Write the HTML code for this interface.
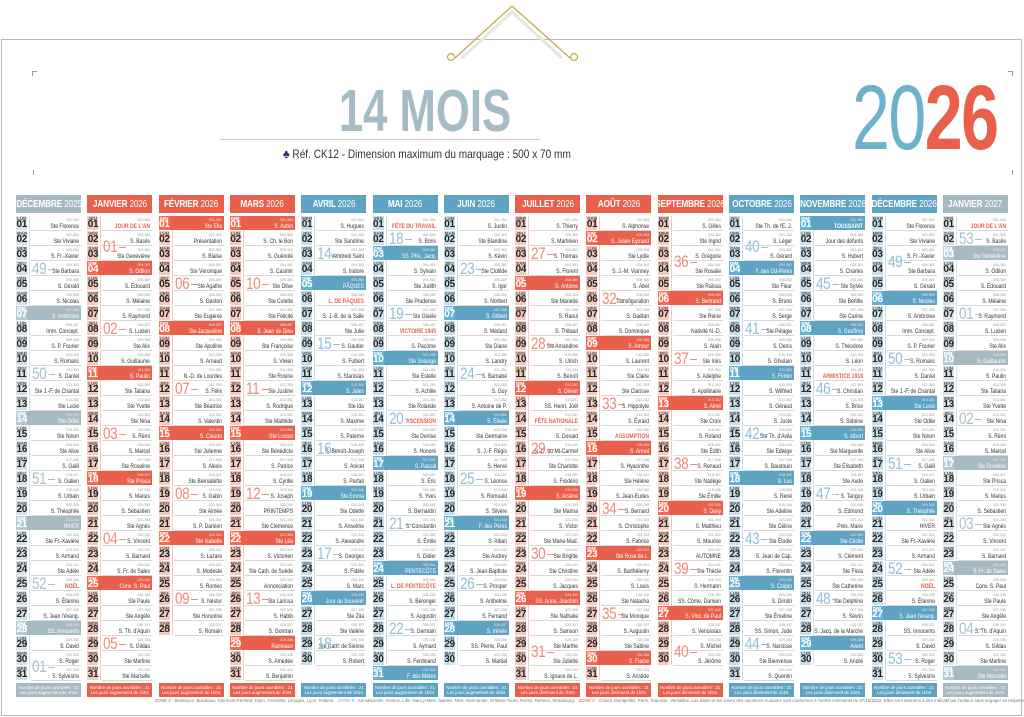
<!DOCTYPE html>
<html><head><meta charset="utf-8">
<style>
*{margin:0;padding:0;box-sizing:border-box}
html,body{width:1024px;height:717px;overflow:hidden;background:#fff;font-family:"Liberation Sans",sans-serif}
#pg{position:absolute;left:1px;top:39px;width:1021px;height:677px;border:1px solid #b9b9b9}
.a{position:absolute}
.hd{position:absolute;top:195px;height:18px;width:65px;color:#fff;font-weight:bold;font-size:10.5px;line-height:18px;white-space:nowrap;overflow:hidden}
.hd div{position:absolute;left:50%;top:0;transform:translateX(-50%) scaleX(0.78);letter-spacing:-0.2px}
.hd span{font-weight:normal}
.st{position:absolute;width:11px;height:14px}
.ab{position:absolute;left:1px;top:0px;font-size:4.5px;line-height:5px;font-weight:bold}
.nb{position:absolute;left:0.5px;top:4px;font-size:10px;line-height:10px;font-weight:bold;letter-spacing:-0.3px}
.sep{position:absolute;height:1px;background:#d8d8d8}
.nm{position:absolute;font-size:6.3px;line-height:7px;text-align:right;white-space:nowrap;color:#333;transform:scaleX(0.8);transform-origin:100% 0}
.tn{position:absolute;font-size:3.5px;line-height:4px;text-align:right;color:#999}
.wk{position:absolute;font-size:17px;line-height:17px;letter-spacing:-0.5px;transform:scaleX(0.8);transform-origin:0 0}
.ft{position:absolute;top:683px;height:14px;width:65px;color:#fff;font-size:4.3px;line-height:5px;text-align:center;padding-top:2px}
</style></head><body>
<div id="pg"></div>
<svg class="a" style="left:0;top:0" width="1024" height="70">
<path d="M455 58 L512 6 L570 58" fill="none" stroke="#c9a84a" stroke-width="1.3"/>
<path d="M462 58 L512 12 L562 58" fill="none" stroke="#e6e6e6" stroke-width="3"/>
<circle cx="451" cy="57" r="3.5" fill="none" stroke="#c9a84a" stroke-width="1.2"/>
<circle cx="574" cy="57" r="3.5" fill="none" stroke="#c9a84a" stroke-width="1.2"/>
</svg>
<div class="a" style="left:32px;top:71px;width:5px;height:5px;border-left:1px solid #999;border-top:1px solid #999"></div>
<div class="a" style="left:1008px;top:71px;width:5px;height:5px;border-right:1px solid #999;border-top:1px solid #999"></div>
<div class="a" style="left:33px;top:170px;width:1px;height:5px;background:#999"></div>
<div class="a" style="left:1012px;top:170px;width:1px;height:5px;background:#999"></div>
<div class="a" style="left:300px;top:80px;width:250px;text-align:center;font-size:59px;line-height:62px;font-weight:bold;color:#a5bcc6;transform:scaleX(0.74);transform-origin:125px 0;white-space:nowrap">14 MOIS</div>
<div class="a" style="left:220px;top:139px;width:320px;height:1px;background:#c8c8c8"></div>
<div class="a" style="left:283px;top:147px;font-size:12px;line-height:14px;color:#333;white-space:nowrap;transform:scaleX(0.84);transform-origin:0 0"><span style="color:#1d2a6b;font-weight:bold">♣</span> Réf. CK12 - Dimension maximum du marquage : 500 x 70 mm</div>
<div class="a" style="left:852px;top:72px;font-size:92px;line-height:92px;white-space:nowrap;transform:scaleX(0.74);transform-origin:0 0;letter-spacing:-2px"><span style="color:#6fb0cc;font-weight:normal">20</span><span style="color:#e8604c;font-weight:bold">26</span></div>
<div id="cal"></div>
<div class="a" style="left:155px;top:698px;font-size:4.4px;line-height:5px;color:#777;white-space:nowrap">ZONE A : Besançon, Bordeaux, Clermont-Ferrand, Dijon, Grenoble, Limoges, Lyon, Poitiers. &nbsp; <span style="color:#6fb0cc">ZONE B</span> : Aix-Marseille, Amiens, Lille, Nancy-Metz, Nantes, Nice, Normandie, Orléans-Tours, Reims, Rennes, Strasbourg. &nbsp; <span style="color:#e8604c">ZONE C</span> : Créteil, Montpellier, Paris, Toulouse, Versailles. Les dates et les zones des vacances scolaires sont conformes à l'arrêté ministériel du 07/10/2022. Elles sont données à titre indicatif par l'éditeur sans engager sa responsabilité.</div>
<script>
var S=[
["Jour de l'An","S. Basile","Ste Geneviève","S. Odilon","S. Édouard","S. Mélaine","S. Raymond","S. Lucien","Ste Alix","S. Guillaume","S. Paulin","Ste Tatiana","Ste Yvette","Ste Nina","S. Rémi","S. Marcel","Ste Roseline","Ste Prisca","S. Marius","S. Sébastien","Ste Agnès","S. Vincent","S. Barnard","S. Fr. de Sales","Conv. S. Paul","Ste Paule","Ste Angèle","S. Th. d'Aquin","S. Gildas","Ste Martine","Ste Marcelle"],
["Ste Ella","Présentation","S. Blaise","Ste Véronique","Ste Agathe","S. Gaston","Ste Eugénie","Ste Jacqueline","Ste Apolline","S. Arnaud","N.-D. de Lourdes","S. Félix","Ste Béatrice","S. Valentin","S. Claude","Ste Julienne","S. Alexis","Ste Bernadette","S. Gabin","Ste Aimée","S. P. Damien","Ste Isabelle","S. Lazare","S. Modeste","S. Roméo","S. Nestor","Ste Honorine","S. Romain"],
["S. Aubin","S. Ch. le Bon","S. Guénolé","S. Casimir","Ste Olive","Ste Colette","Ste Félicité","S. Jean de Dieu","Ste Françoise","S. Vivien","Ste Rosine","Ste Justine","S. Rodrigue","Ste Mathilde","Ste Louise","Ste Bénédicte","S. Patrice","S. Cyrille","S. Joseph","PRINTEMPS","Ste Clémence","Ste Léa","S. Victorien","Ste Cath. de Suède","Annonciation","Ste Larissa","S. Habib","S. Gontran","Rameaux","S. Amédée","S. Benjamin"],
["S. Hugues","Ste Sandrine","Vendredi Saint","S. Isidore","PÂQUES","L. DE PÂQUES","S. J.-B. de la Salle","Ste Julie","S. Gautier","S. Fulbert","S. Stanislas","S. Jules","Ste Ida","S. Maxime","S. Paterne","S. Benoît-Joseph","S. Anicet","S. Parfait","Ste Emma","Ste Odette","S. Anselme","S. Alexandre","S. Georges","S. Fidèle","S. Marc","Jour du Souvenir","Ste Zita","Ste Valérie","Ste Cath. de Sienne","S. Robert"],
["FÊTE DU TRAVAIL","S. Boris","SS. Phil., Jacq.","S. Sylvain","Ste Judith","Ste Prudence","Ste Gisèle","VICTOIRE 1945","S. Pacôme","Ste Solange","Ste Estelle","S. Achille","Ste Rolande","ASCENSION","Ste Denise","S. Honoré","S. Pascal","S. Éric","S. Yves","S. Bernardin","S. Constantin","S. Émile","S. Didier","PENTECÔTE","L. DE PENTECÔTE","S. Bérenger","S. Augustin","S. Germain","S. Aymard","S. Ferdinand","F. des Mères"],
["S. Justin","Ste Blandine","S. Kévin","Ste Clotilde","S. Igor","S. Norbert","S. Gilbert","S. Médard","Ste Diane","S. Landry","S. Barnabé","S. Guy","S. Antoine de P.","S. Élisée","Ste Germaine","S. J.-F. Régis","S. Hervé","S. Léonce","S. Romuald","S. Silvère","F. des Pères","S. Alban","Ste Audrey","S. Jean-Baptiste","S. Prosper","S. Anthelme","S. Fernand","S. Irénée","SS. Pierre, Paul","S. Martial"],
["S. Thierry","S. Martinien","S. Thomas","S. Florent","S. Antoine","Ste Mariette","S. Raoul","S. Thibaut","Ste Amandine","S. Ulrich","S. Benoît","S. Olivier","SS. Henri, Joël","FÊTE NATIONALE","S. Donald","N.-D. du Mt-Carmel","Ste Charlotte","S. Frédéric","S. Arsène","Ste Marina","S. Victor","Ste Marie-Mad.","Ste Brigitte","Ste Christine","S. Jacques","SS. Anne, Joachim","Ste Nathalie","S. Samson","Ste Marthe","Ste Juliette","S. Ignace de L."],
["S. Alphonse","S. Julien Eymard","Ste Lydie","S. J.-M. Vianney","S. Abel","Transfiguration","S. Gaétan","S. Dominique","S. Amour","S. Laurent","Ste Claire","Ste Clarisse","S. Hippolyte","S. Évrard","ASSOMPTION","S. Armel","S. Hyacinthe","Ste Hélène","S. Jean-Eudes","S. Bernard","S. Christophe","S. Fabrice","Ste Rose de L.","S. Barthélemy","S. Louis","Ste Natacha","Ste Monique","S. Augustin","Ste Sabine","S. Fiacre","S. Aristide"],
["S. Gilles","Ste Ingrid","S. Grégoire","Ste Rosalie","Ste Raïssa","S. Bertrand","Ste Reine","Nativité N.-D.","S. Alain","Ste Inès","S. Adelphe","S. Apollinaire","S. Aimé","Ste Croix","S. Roland","Ste Édith","S. Renaud","Ste Nadège","Ste Émilie","S. Davy","S. Matthieu","S. Maurice","AUTOMNE","Ste Thècle","S. Hermann","SS. Côme, Damien","S. Vinc. de Paul","S. Venceslas","S. Michel","S. Jérôme"],
["Ste Th. de l'E. J.","S. Léger","S. Gérard","F. des Gd-Pères","Ste Fleur","S. Bruno","S. Serge","Ste Pélagie","S. Denis","S. Ghislain","S. Firmin","S. Wilfried","S. Géraud","S. Juste","Ste Th. d'Avila","Ste Edwige","S. Baudouin","S. Luc","S. René","Ste Adeline","Ste Céline","Ste Élodie","S. Jean de Cap.","S. Florentin","S. Crépin","S. Dimitri","Ste Émeline","SS. Simon, Jude","S. Narcisse","Ste Bienvenue","S. Quentin"],
["TOUSSAINT","Jour des défunts","S. Hubert","S. Charles","Ste Sylvie","Ste Bertille","Ste Carine","S. Geoffroy","S. Théodore","S. Léon","ARMISTICE 1918","S. Christian","S. Brice","S. Sidoine","S. Albert","Ste Marguerite","Ste Élisabeth","Ste Aude","S. Tanguy","S. Edmond","Prés. Marie","Ste Cécile","S. Clément","Ste Flora","Ste Catherine","Ste Delphine","S. Sévrin","S. Jacq. de la Marche","Avent","S. André"],
["Ste Florence","Ste Viviane","S. Fr.-Xavier","Ste Barbara","S. Gérald","S. Nicolas","S. Ambroise","Imm. Concept.","S. P. Fourier","S. Romaric","S. Daniel","Ste J.-F. de Chantal","Ste Lucie","Ste Odile","Ste Ninon","Ste Alice","S. Gaël","S. Gatien","S. Urbain","S. Théophile","HIVER","Ste Fr.-Xavière","S. Armand","Ste Adèle","NOËL","S. Étienne","S. Jean l'évang.","SS. Innocents","S. David","S. Roger","S. Sylvestre"]];
var MN=["JANVIER","FÉVRIER","MARS","AVRIL","MAI","JUIN","JUILLET","AOÛT","SEPTEMBRE","OCTOBRE","NOVEMBRE","DÉCEMBRE"];
var DA=["DIM","LUN","MAR","MER","JEU","VEN","SAM"];
var C={r:["#e8604c","#f5c9bb","#ef8c79"],b:["#5fa3c4","#c8dfea","#8fc0d8"],g:["#a6bac3","#d6e1e5","#aac0ca"]};
var cols=[[2025,11,"g"],[2026,0,"r"],[2026,1,"r"],[2026,2,"r"],[2026,3,"b"],[2026,4,"b"],[2026,5,"b"],[2026,6,"r"],[2026,7,"r"],[2026,8,"r"],[2026,9,"b"],[2026,10,"b"],[2026,11,"b"],[2027,0,"g"]];
var HOL={"0-1":1,"3-6":1,"4-1":1,"4-8":1,"4-14":1,"4-25":1,"6-14":1,"7-15":1,"10-1":1,"10-11":1,"11-25":1};
function iso(d){var t=new Date(Date.UTC(d.getFullYear(),d.getMonth(),d.getDate()));var n=t.getUTCDay()||7;t.setUTCDate(t.getUTCDate()+4-n);var y=new Date(Date.UTC(t.getUTCFullYear(),0,1));return Math.ceil(((t-y)/864e5+1)/7);}
var h="";
cols.forEach(function(c,i){
 var L=16+i*71.3,y=c[0],m=c[1],k=C[c[2]];
 h+='<div class="hd" style="left:'+L+'px;background:'+k[0]+'"><div>'+MN[m]+' <span>'+y+'</span></div></div>';
 var nd=new Date(y,m+1,0).getDate();
 h+='<div class="a" style="left:'+(L+13)+'px;top:216px;width:1px;height:'+(nd*15-1)+'px;background:'+k[1]+'"></div>';
 var seg=[],cur=null;
 for(var d=1;d<=nd;d++){
  var dt=new Date(y,m,d),w=dt.getDay(),T=216+(d-1)*15;
  var hol=HOL[m+"-"+d];
  if(w==0){
   h+='<div class="a" style="left:'+L+'px;top:'+T+'px;width:65px;height:14px;background:'+k[0]+'"></div>';
   h+='<div class="st" style="left:'+L+'px;top:'+T+'px;background:'+k[0]+';filter:brightness(1.08)"><div class="ab" style="color:#fff">DIM</div><div class="nb" style="color:#fff">'+(d<10?"0"+d:d)+'</div></div>';
  }else{
   h+='<div class="st" style="left:'+L+'px;top:'+T+'px;background:'+k[1]+'"><div class="ab" style="color:#555">'+DA[w]+'</div><div class="nb" style="color:#222">'+(d<10?"0"+d:d)+'</div></div>';
   h+='<div class="sep" style="left:'+(L+15)+'px;top:'+(T+14)+'px;width:50px"></div>';
  }
  var col=w==0?"#fff":(hol?"#e8604c":"#333");
  var nm=S[m][d-1]||"";
  if(hol) nm=nm.toUpperCase();
  h+='<div class="tn" style="left:'+(L+30)+'px;width:33px;top:'+(T+1.5)+'px;color:'+(w==0?"#fbe3dc":"#999")+'">'+String(d).padStart(3,"0")+'-'+String(365-d).padStart(3,"0")+'</div>';
  h+='<div class="nm" style="left:'+(L+2)+'px;width:61px;top:'+(T+6.5)+'px;color:'+col+(hol?';font-weight:bold':'')+'">'+nm+'</div>';
  var wk=iso(dt);
  if(!cur||cur.w!=wk){cur={w:wk,s:d,e:d};seg.push(cur);}else cur.e=d;
 }
 seg.forEach(function(s){
  var len=s.e-s.s+1;if(len<3)return;
  var last=s.e; if(new Date(y,m,s.e).getDay()==0) last--;
  var mid=(s.s-1+last)/2;
  var T=216+mid*15-1;
  h+='<div class="wk" style="left:'+(L+16)+'px;top:'+T+'px;color:'+k[2]+'">'+(s.w<10?"0"+s.w:s.w)+'</div>';
  h+='<div class="a" style="left:'+(L+32)+'px;top:'+(T+9)+'px;width:7px;height:1px;background:'+k[2]+'"></div>';
 });
 h+='<div class="ft" style="left:'+L+'px;background:'+k[0]+'">Nombre de jours ouvrables : 21<br>Les jours '+(m>=6&&m<=11&&y==2026?"diminuent":"augmentent")+' de 1h04</div>';
});
document.getElementById("cal").innerHTML=h;
</script>
</body></html>
